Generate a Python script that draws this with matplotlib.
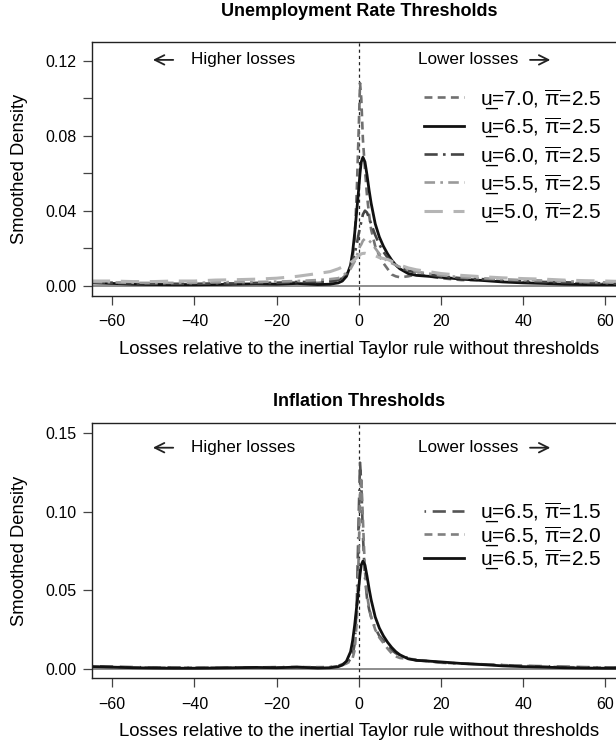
import matplotlib
matplotlib.use("Agg")
from matplotlib import pyplot as plt

plt.rcParams['font.family'] = ['Liberation Sans', 'DejaVu Sans']
plt.rcParams['mathtext.default'] = 'regular'

# grid of loss differences (x) shared by all density curves
x = [-65, -60, -55, -50, -45, -40, -35, -30, -25, -20, -15, -10, -7, -5, -4, -3, -2, -1.5, -1, -0.5,
     0, 0.3, 0.6, 1, 1.5, 2, 2.5, 3, 4, 5, 6, 7, 8, 9, 10, 12, 14, 17, 20, 25, 30, 35, 40, 45, 50, 55, 60, 65]

# unemployment thresholds (pi = 2.5)
u70 = [0.0018, 0.0015, 0.001, 0.0008, 0.0008, 0.0007, 0.0008, 0.001, 0.0012, 0.0015, 0.0018, 0.0015, 0.002, 0.003,
       0.004, 0.006, 0.010, 0.015, 0.025, 0.050, 0.085, 0.108, 0.100, 0.078, 0.062, 0.048, 0.038, 0.030, 0.021, 0.016,
       0.012, 0.009, 0.006, 0.005, 0.0045, 0.005, 0.006, 0.005, 0.004, 0.003, 0.003, 0.0025, 0.002, 0.0018, 0.0015,
       0.0012, 0.001, 0.001]
u65 = [0.0015, 0.0012, 0.0008, 0.0006, 0.0005, 0.0005, 0.0006, 0.0008, 0.001, 0.0008, 0.0012, 0.0006, 0.0008, 0.0015,
       0.0025, 0.005, 0.011, 0.018, 0.028, 0.040, 0.052, 0.060, 0.066, 0.0685, 0.066, 0.059, 0.051, 0.044, 0.033, 0.026,
       0.021, 0.017, 0.0137, 0.011, 0.009, 0.0065, 0.0055, 0.005, 0.0045, 0.0035, 0.0028, 0.002, 0.0015, 0.0012, 0.0008,
       0.0006, 0.0005, 0.0005]
u60 = [0.002, 0.0015, 0.0012, 0.001, 0.001, 0.001, 0.0012, 0.0012, 0.0015, 0.0015, 0.002, 0.002, 0.0025, 0.003,
       0.004, 0.006, 0.010, 0.013, 0.017, 0.022, 0.028, 0.031, 0.034, 0.038, 0.040, 0.039, 0.036, 0.033, 0.027, 0.022,
       0.018, 0.015, 0.013, 0.011, 0.0095, 0.008, 0.007, 0.006, 0.005, 0.004, 0.0035, 0.003, 0.0025, 0.002, 0.0018,
       0.0015, 0.0012, 0.001]
u55 = [0.002, 0.0018, 0.0015, 0.0015, 0.0015, 0.0015, 0.0018, 0.002, 0.002, 0.0022, 0.0025, 0.003, 0.0035, 0.004,
       0.005, 0.007, 0.009, 0.011, 0.013, 0.016, 0.019, 0.021, 0.022, 0.024, 0.025, 0.025, 0.024, 0.023, 0.020, 0.017,
       0.015, 0.013, 0.012, 0.011, 0.010, 0.0085, 0.0075, 0.0065, 0.0055, 0.0045, 0.004, 0.0035, 0.003, 0.0028, 0.0025,
       0.002, 0.0018, 0.0015]
u50 = [0.0025, 0.0025, 0.0022, 0.0022, 0.0025, 0.0025, 0.003, 0.0032, 0.0035, 0.004, 0.005, 0.0065, 0.0075, 0.009,
       0.010, 0.011, 0.0125, 0.013, 0.014, 0.015, 0.016, 0.0165, 0.017, 0.0172, 0.0173, 0.017, 0.0168, 0.0165, 0.016,
       0.015, 0.0145, 0.014, 0.013, 0.012, 0.011, 0.0095, 0.0085, 0.0075, 0.0065, 0.0055, 0.0048, 0.0042, 0.0038,
       0.0035, 0.003, 0.0027, 0.0025, 0.0022]

# inflation thresholds (u = 6.5)
p15 = [0.0018, 0.0015, 0.0012, 0.001, 0.001, 0.0008, 0.0008, 0.001, 0.001, 0.0012, 0.0012, 0.001, 0.0012, 0.002,
       0.003, 0.004, 0.006, 0.009, 0.016, 0.040, 0.100, 0.131, 0.118, 0.085, 0.058, 0.045, 0.038, 0.033, 0.026, 0.021,
       0.018, 0.015, 0.012, 0.010, 0.009, 0.007, 0.0055, 0.005, 0.004, 0.0035, 0.003, 0.0025, 0.002, 0.0018, 0.0015,
       0.0012, 0.001, 0.001]
p20 = [0.0015, 0.0012, 0.001, 0.0008, 0.0008, 0.0008, 0.0008, 0.0008, 0.001, 0.001, 0.0012, 0.0012, 0.0012, 0.0018,
       0.0025, 0.0035, 0.005, 0.007, 0.012, 0.030, 0.075, 0.110, 0.122, 0.095, 0.062, 0.047, 0.039, 0.033, 0.025, 0.020,
       0.0165, 0.013, 0.010, 0.008, 0.007, 0.0065, 0.006, 0.005, 0.004, 0.0035, 0.003, 0.0025, 0.002, 0.0015, 0.0012,
       0.001, 0.0008, 0.0008]
p25 = u65

top_u = ["7.0", "6.5", "6.0", "5.5", "5.0"]
top_pi = ["2.5", "2.5", "2.5", "2.5", "2.5"]
bot_u = ["6.5", "6.5", "6.5"]
bot_pi = ["1.5", "2.0", "2.5"]


def label(u, p):
    return "u\u0332=" + u + ", $\\overline{\\pi}$=" + p


W, H = 616, 743
fig = plt.figure(figsize=(W / 100, H / 100), dpi=100)
ax1 = fig.add_axes([92.3 / W, 1 - 295.7 / H, 533 / W, 254 / H])
ax2 = fig.add_axes([92.3 / W, 1 - 678.3 / H, 533 / W, 255 / H])


def style_axis(ax, ylim, yticks, ylabels):
    ax.axhline(0, color="#7a7a7a", lw=1.2, zorder=1)
    ax.axvline(0, color="#222222", lw=0.9, ls=(0, (2.5, 2.5)), zorder=1)
    ax.set_xlim(-64.87, 64.87)
    ax.set_ylim(*ylim)
    ax.set_xticks([-60, -40, -20, 0, 20, 40, 60])
    ax.set_yticks(yticks)
    ax.set_yticklabels(ylabels)
    ax.tick_params(axis="both", direction="out", length=6.5, width=0.9, color="#444444",
                   labelsize=11.5, pad=5)
    ax.tick_params(axis="x", pad=7)
    for sp in ax.spines.values():
        sp.set_linewidth(1.0)
        sp.set_color("#222222")


# top panel
ax1.plot(x, u70, color="#707070", lw=1.9, dashes=(3, 2), label=label(top_u[0], top_pi[0]))
ax1.plot(x, u65, color="#111111", lw=2.0, label=label(top_u[1], top_pi[1]))
ax1.plot(x, u60, color="#454545", lw=1.9, dashes=(5, 2, 1, 2), label=label(top_u[2], top_pi[2]))
ax1.plot(x, u55, color="#9a9a9a", lw=1.9, dashes=(4, 2, 1, 2), label=label(top_u[3], top_pi[3]))
ax1.plot(x, u50, color="#b5b5b5", lw=2.2, dashes=(6, 3.5), label=label(top_u[4], top_pi[4]))
style_axis(ax1, (-0.00533, 0.1301), [0, 0.02, 0.04, 0.06, 0.08, 0.10, 0.12],
           ["0.00", "", "0.04", "", "0.08", "", "0.12"])

# bottom panel
ax2.plot(x, p15, color="#555555", lw=1.9, dashes=(0.6, 2.5, 5, 2.5, 5, 2.5), label=label(bot_u[0], bot_pi[0]))
ax2.plot(x, p20, color="#808080", lw=1.9, dashes=(3, 2), label=label(bot_u[1], bot_pi[1]))
ax2.plot(x, p25, color="#111111", lw=2.0, label=label(bot_u[2], bot_pi[2]))
style_axis(ax2, (-0.0059, 0.156), [0, 0.05, 0.10, 0.15], ["0.00", "0.05", "0.10", "0.15"])

# direction notes
for ax, yh in [(ax1, 0.1204), (ax2, 0.1405)]:
    ax.annotate("", xy=(-50.8, yh), xytext=(-44.5, yh),
                arrowprops=dict(arrowstyle="->", lw=1.3, color="#222222", mutation_scale=17))
    ax.text(-40.8, yh, "Higher losses", fontsize=12.3, ha="left", va="center")
    ax.text(38.8, yh, "Lower losses", fontsize=12.3, ha="right", va="center")
    ax.annotate("", xy=(47.3, yh), xytext=(41.0, yh),
                arrowprops=dict(arrowstyle="->", lw=1.3, color="#222222", mutation_scale=17))

leg_kw = dict(frameon=False, fontsize=15, handlelength=1.92, handletextpad=0.75,
              borderpad=0, borderaxespad=0, loc="upper left", bbox_transform=fig.transFigure)
ax1.legend(bbox_to_anchor=(424 / W, 1 - 87 / H), labelspacing=0.23, **leg_kw)
ax2.legend(bbox_to_anchor=(424 / W, 1 - 500.5 / H), labelspacing=0.0, **leg_kw)

fig.text(358.8 / W, 1 - 12 / H, "Unemployment Rate Thresholds", ha="center", va="center",
         fontsize=13, fontweight="bold")
fig.text(358.8 / W, 1 - 401 / H, "Inflation Thresholds", ha="center", va="center",
         fontsize=13, fontweight="bold")
for yc in [168.7, 550.8]:
    fig.text(20 / W, 1 - yc / H, "Smoothed Density", rotation=90, ha="center", va="center", fontsize=13.2)
for yc in [350, 732]:
    fig.text(358.8 / W, 1 - yc / H, "Losses relative to the inertial Taylor rule without thresholds",
             ha="center", va="center", fontsize=13.4)

fig.savefig("out.png", dpi=100)
